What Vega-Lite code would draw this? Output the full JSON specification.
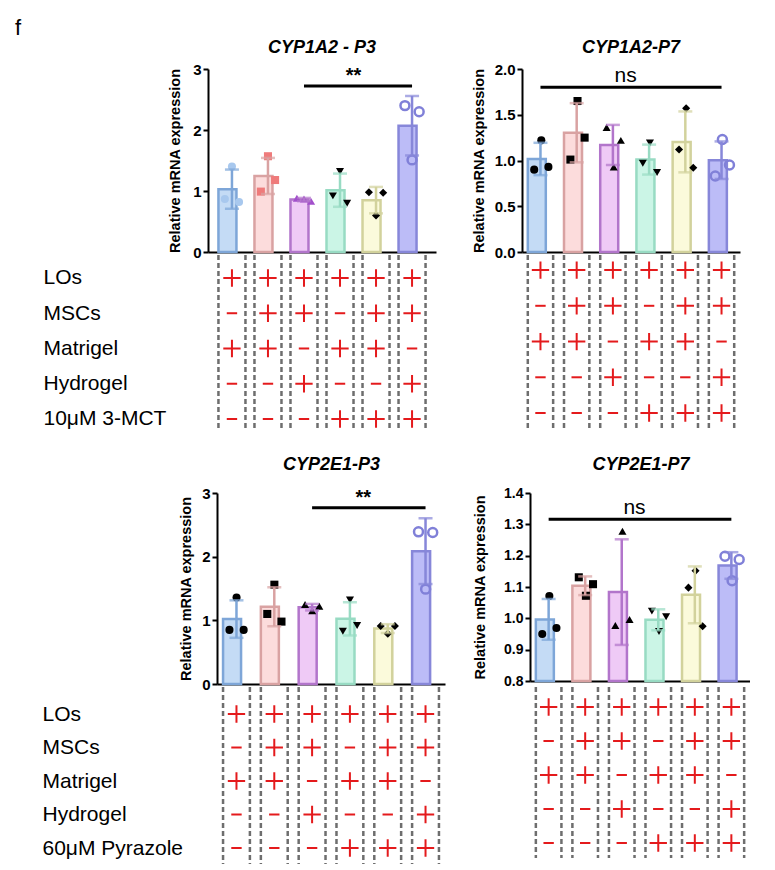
{
  "$schema": "https://vega.github.io/schema/vega-lite/v6.json",
  "background": "white",
  "padding": {"left": 15, "top": 17, "right": 0, "bottom": 0},
  "title": {"text": "f", "anchor": "start", "frame": "group", "offset": -1, "dx": -193, "fontSize": 22, "fontWeight": "normal", "fontStyle": "normal"},
  "config": {
    "font": "Liberation Sans",
    "view": {"stroke": null},
    "axis": {"grid": false, "domainColor": "black", "domainWidth": 2, "tickColor": "black", "tickWidth": 2, "tickSize": 5, "labelColor": "black", "labelFontSize": 15, "labelFontWeight": "bold", "labelPadding": 2, "labelOverlap": false, "titleColor": "black", "titleFontSize": 14.5, "titleFontWeight": "bold"},
    "title": {"fontSize": 18, "fontWeight": "bold", "fontStyle": "italic", "color": "black"}
  },
  "datasets": {
    "p1": [
      {"g": "1", "rep": 1, "v": 0.87}, {"g": "1", "rep": 2, "v": 1.40}, {"g": "1", "rep": 3, "v": 0.82},
      {"g": "2", "rep": 1, "v": 0.99}, {"g": "2", "rep": 2, "v": 1.57}, {"g": "2", "rep": 3, "v": 1.18},
      {"g": "3", "rep": 1, "v": 0.88}, {"g": "3", "rep": 2, "v": 0.87}, {"g": "3", "rep": 3, "v": 0.83},
      {"g": "4", "rep": 1, "v": 0.92}, {"g": "4", "rep": 2, "v": 1.32}, {"g": "4", "rep": 3, "v": 0.80},
      {"g": "5", "rep": 1, "v": 0.98}, {"g": "5", "rep": 2, "v": 0.60}, {"g": "5", "rep": 3, "v": 0.97},
      {"g": "6", "rep": 1, "v": 2.40}, {"g": "6", "rep": 2, "v": 1.51}, {"g": "6", "rep": 3, "v": 2.30}
    ],
    "p2": [
      {"g": "1", "rep": 1, "v": 0.90}, {"g": "1", "rep": 2, "v": 1.22}, {"g": "1", "rep": 3, "v": 0.93},
      {"g": "2", "rep": 1, "v": 1.01}, {"g": "2", "rep": 2, "v": 1.65}, {"g": "2", "rep": 3, "v": 1.25},
      {"g": "3", "rep": 1, "v": 1.36}, {"g": "3", "rep": 2, "v": 0.93}, {"g": "3", "rep": 3, "v": 1.22},
      {"g": "4", "rep": 1, "v": 0.97}, {"g": "4", "rep": 2, "v": 1.19}, {"g": "4", "rep": 3, "v": 0.87},
      {"g": "5", "rep": 1, "v": 1.12}, {"g": "5", "rep": 2, "v": 1.57}, {"g": "5", "rep": 3, "v": 0.92},
      {"g": "6", "rep": 1, "v": 0.83}, {"g": "6", "rep": 2, "v": 1.23}, {"g": "6", "rep": 3, "v": 0.95}
    ],
    "p3": [
      {"g": "1", "rep": 1, "v": 0.85}, {"g": "1", "rep": 2, "v": 1.36}, {"g": "1", "rep": 3, "v": 0.85},
      {"g": "2", "rep": 1, "v": 1.10}, {"g": "2", "rep": 2, "v": 1.56}, {"g": "2", "rep": 3, "v": 0.98},
      {"g": "3", "rep": 1, "v": 1.25}, {"g": "3", "rep": 2, "v": 1.15}, {"g": "3", "rep": 3, "v": 1.22},
      {"g": "4", "rep": 1, "v": 0.83}, {"g": "4", "rep": 2, "v": 1.32}, {"g": "4", "rep": 3, "v": 0.92},
      {"g": "5", "rep": 1, "v": 0.91}, {"g": "5", "rep": 2, "v": 0.79}, {"g": "5", "rep": 3, "v": 0.91},
      {"g": "6", "rep": 1, "v": 2.39}, {"g": "6", "rep": 2, "v": 1.49}, {"g": "6", "rep": 3, "v": 2.38}
    ],
    "p4": [
      {"g": "1", "rep": 1, "v": 0.950}, {"g": "1", "rep": 2, "v": 1.071}, {"g": "1", "rep": 3, "v": 0.969},
      {"g": "2", "rep": 1, "v": 1.131}, {"g": "2", "rep": 2, "v": 1.072}, {"g": "2", "rep": 3, "v": 1.109},
      {"g": "3", "rep": 1, "v": 0.977}, {"g": "3", "rep": 2, "v": 1.278}, {"g": "3", "rep": 3, "v": 0.996},
      {"g": "4", "rep": 1, "v": 1.023}, {"g": "4", "rep": 2, "v": 0.958}, {"g": "4", "rep": 3, "v": 1.005},
      {"g": "5", "rep": 1, "v": 1.098}, {"g": "5", "rep": 2, "v": 1.152}, {"g": "5", "rep": 3, "v": 0.975},
      {"g": "6", "rep": 1, "v": 1.198}, {"g": "6", "rep": 2, "v": 1.120}, {"g": "6", "rep": 3, "v": 1.188}
    ],
    "p1sig": [{"from": "3", "to": "6", "at": "4", "y": 2.72, "label": "**"}],
    "p2sig": [{"from": "1", "to": "6", "at": "3", "y": 1.80, "label": "ns"}],
    "p3sig": [{"from": "3", "to": "6", "at": "4", "y": 2.77, "label": "**"}],
    "p4sig": [{"from": "1", "to": "6", "at": "3", "y": 1.316, "label": "ns"}],
    "signsA": [
      {"r": "LOs", "g": "1", "s": "+"}, {"r": "LOs", "g": "2", "s": "+"}, {"r": "LOs", "g": "3", "s": "+"}, {"r": "LOs", "g": "4", "s": "+"}, {"r": "LOs", "g": "5", "s": "+"}, {"r": "LOs", "g": "6", "s": "+"},
      {"r": "MSCs", "g": "1", "s": "−"}, {"r": "MSCs", "g": "2", "s": "+"}, {"r": "MSCs", "g": "3", "s": "+"}, {"r": "MSCs", "g": "4", "s": "−"}, {"r": "MSCs", "g": "5", "s": "+"}, {"r": "MSCs", "g": "6", "s": "+"},
      {"r": "Matrigel", "g": "1", "s": "+"}, {"r": "Matrigel", "g": "2", "s": "+"}, {"r": "Matrigel", "g": "3", "s": "−"}, {"r": "Matrigel", "g": "4", "s": "+"}, {"r": "Matrigel", "g": "5", "s": "+"}, {"r": "Matrigel", "g": "6", "s": "−"},
      {"r": "Hydrogel", "g": "1", "s": "−"}, {"r": "Hydrogel", "g": "2", "s": "−"}, {"r": "Hydrogel", "g": "3", "s": "+"}, {"r": "Hydrogel", "g": "4", "s": "−"}, {"r": "Hydrogel", "g": "5", "s": "−"}, {"r": "Hydrogel", "g": "6", "s": "+"},
      {"r": "10μM 3-MCT", "g": "1", "s": "−"}, {"r": "10μM 3-MCT", "g": "2", "s": "−"}, {"r": "10μM 3-MCT", "g": "3", "s": "−"}, {"r": "10μM 3-MCT", "g": "4", "s": "+"}, {"r": "10μM 3-MCT", "g": "5", "s": "+"}, {"r": "10μM 3-MCT", "g": "6", "s": "+"}
    ],
    "signsB": [
      {"r": "LOs", "g": "1", "s": "+"}, {"r": "LOs", "g": "2", "s": "+"}, {"r": "LOs", "g": "3", "s": "+"}, {"r": "LOs", "g": "4", "s": "+"}, {"r": "LOs", "g": "5", "s": "+"}, {"r": "LOs", "g": "6", "s": "+"},
      {"r": "MSCs", "g": "1", "s": "−"}, {"r": "MSCs", "g": "2", "s": "+"}, {"r": "MSCs", "g": "3", "s": "+"}, {"r": "MSCs", "g": "4", "s": "−"}, {"r": "MSCs", "g": "5", "s": "+"}, {"r": "MSCs", "g": "6", "s": "+"},
      {"r": "Matrigel", "g": "1", "s": "+"}, {"r": "Matrigel", "g": "2", "s": "+"}, {"r": "Matrigel", "g": "3", "s": "−"}, {"r": "Matrigel", "g": "4", "s": "+"}, {"r": "Matrigel", "g": "5", "s": "+"}, {"r": "Matrigel", "g": "6", "s": "−"},
      {"r": "Hydrogel", "g": "1", "s": "−"}, {"r": "Hydrogel", "g": "2", "s": "−"}, {"r": "Hydrogel", "g": "3", "s": "+"}, {"r": "Hydrogel", "g": "4", "s": "−"}, {"r": "Hydrogel", "g": "5", "s": "−"}, {"r": "Hydrogel", "g": "6", "s": "+"},
      {"r": "60μM Pyrazole", "g": "1", "s": "−"}, {"r": "60μM Pyrazole", "g": "2", "s": "−"}, {"r": "60μM Pyrazole", "g": "3", "s": "−"}, {"r": "60μM Pyrazole", "g": "4", "s": "+"}, {"r": "60μM Pyrazole", "g": "5", "s": "+"}, {"r": "60μM Pyrazole", "g": "6", "s": "+"}
    ]
  },
  "columns": 2,
  "bounds": "flush",
  "align": "each",
  "spacing": {"row": 3, "column": 77},
  "resolve": {"scale": {"shape": "independent", "color": "independent", "fill": "independent", "stroke": "independent"}},
  "concat": [
    {
      "width": 228, "height": 183,
      "title": {"text": "CYP1A2 - P3", "frame": "group", "offset": 5},
      "layer": [
        {"data": {"name": "p1"}, "mark": {"type": "bar", "strokeWidth": 2.5},
         "encoding": {
           "x": {"field": "g", "type": "ordinal", "scale": {"paddingInner": 0.25, "paddingOuter": 0.29}, "axis": {"labels": false, "ticks": false, "title": null}},
           "y": {"aggregate": "mean", "field": "v", "type": "quantitative", "title": "Relative mRNA expression", "scale": {"domain": [0, 3]}, "axis": {"values": [0, 1, 2, 3], "format": "d", "titlePadding": 10}},
           "fill": {"field": "g", "type": "nominal", "scale": {"range": ["#c4dbf5", "#fcdcdc", "#efcaf6", "#cbf5e6", "#fbfadb", "#bcbcf7"]}, "legend": null},
           "stroke": {"field": "g", "type": "nominal", "scale": {"range": ["#7ea6d8", "#d9a2a2", "#b275cb", "#98dbc3", "#d2d29c", "#8787d9"]}, "legend": null}}},
        {"data": {"name": "p1"}, "transform": [{"filter": "datum.g != '6'"}],
         "mark": {"type": "point", "filled": true, "size": 65, "opacity": 1},
         "encoding": {
           "x": {"field": "g", "type": "ordinal", "axis": {"labels": false, "ticks": false, "title": null}},
           "xOffset": {"field": "rep", "type": "ordinal", "scale": {"type": "point", "padding": 0.9}},
           "y": {"field": "v", "type": "quantitative", "title": "Relative mRNA expression", "axis": {"values": [0, 1, 2, 3], "format": "d", "titlePadding": 10}},
           "shape": {"field": "g", "type": "nominal", "scale": {"domain": ["1", "2", "3", "4", "5"], "range": ["circle", "square", "triangle-up", "triangle-down", "diamond"]}, "legend": null},
           "color": {"condition": [{"test": "datum.g == '1'", "value": "#a8c8ee"}, {"test": "datum.g == '2'", "value": "#ef7b7b"}, {"test": "datum.g == '3'", "value": "#a24fcb"}], "value": "black"}}},
        {"data": {"name": "p1"}, "transform": [{"filter": "datum.g == '6'"}],
         "mark": {"type": "point", "filled": false, "size": 80, "strokeWidth": 2.5, "opacity": 1, "color": "#8080d8"},
         "encoding": {
           "x": {"field": "g", "type": "ordinal", "axis": {"labels": false, "ticks": false, "title": null}},
           "xOffset": {"field": "rep", "type": "ordinal", "scale": {"type": "point", "padding": 0.9}},
           "y": {"field": "v", "type": "quantitative", "title": "Relative mRNA expression", "axis": {"values": [0, 1, 2, 3], "format": "d", "titlePadding": 10}}}},
        {"data": {"name": "p1"}, "mark": {"type": "errorbar", "extent": "stdev", "ticks": true, "size": 14, "thickness": 2.5},
         "encoding": {
           "x": {"field": "g", "type": "ordinal", "axis": {"labels": false, "ticks": false, "title": null}},
           "y": {"field": "v", "type": "quantitative", "title": "Relative mRNA expression", "axis": {"values": [0, 1, 2, 3], "format": "d", "titlePadding": 10}},
           "color": {"field": "g", "type": "nominal", "scale": {"range": ["#7ea6d8", "#d9a2a2", "#b275cb", "#98dbc3", "#d2d29c", "#8787d9"]}, "legend": null}}},
        {"data": {"name": "p1sig"}, "mark": {"type": "rule", "strokeWidth": 3, "color": "black"},
         "encoding": {
           "x": {"field": "from", "type": "ordinal", "axis": {"labels": false, "ticks": false, "title": null}},
           "x2": {"field": "to"},
           "y": {"field": "y", "type": "quantitative", "title": "Relative mRNA expression", "axis": {"values": [0, 1, 2, 3], "format": "d", "titlePadding": 10}}}},
        {"data": {"name": "p1sig"}, "mark": {"type": "text", "fontSize": 20, "fontWeight": "bold", "baseline": "middle", "dy": -10, "color": "black"},
         "encoding": {
           "x": {"field": "at", "type": "ordinal", "bandPosition": 1, "axis": {"labels": false, "ticks": false, "title": null}},
           "y": {"field": "y", "type": "quantitative", "title": "Relative mRNA expression", "axis": {"values": [0, 1, 2, 3], "format": "d", "titlePadding": 10}},
           "text": {"field": "label"}}}
      ]
    },
    {
      "width": 218, "height": 183,
      "title": {"text": "CYP1A2-P7", "frame": "group", "offset": 5},
      "layer": [
        {"data": {"name": "p2"}, "mark": {"type": "bar", "strokeWidth": 2.5},
         "encoding": {
           "x": {"field": "g", "type": "ordinal", "scale": {"paddingInner": 0.3, "paddingOuter": 0.16}, "axis": {"labels": false, "ticks": false, "title": null}},
           "y": {"aggregate": "mean", "field": "v", "type": "quantitative", "title": "Relative mRNA expression", "scale": {"domain": [0, 2]}, "axis": {"values": [0, 0.5, 1, 1.5, 2], "format": ".1f", "titlePadding": 8}},
           "fill": {"field": "g", "type": "nominal", "scale": {"range": ["#c4dbf5", "#fcdcdc", "#efcaf6", "#cbf5e6", "#fbfadb", "#bcbcf7"]}, "legend": null},
           "stroke": {"field": "g", "type": "nominal", "scale": {"range": ["#7ea6d8", "#d9a2a2", "#b275cb", "#98dbc3", "#d2d29c", "#8787d9"]}, "legend": null}}},
        {"data": {"name": "p2"}, "transform": [{"filter": "datum.g != '6'"}],
         "mark": {"type": "point", "filled": true, "size": 65, "opacity": 1, "color": "black"},
         "encoding": {
           "x": {"field": "g", "type": "ordinal", "axis": {"labels": false, "ticks": false, "title": null}},
           "xOffset": {"field": "rep", "type": "ordinal", "scale": {"type": "point", "padding": 0.9}},
           "y": {"field": "v", "type": "quantitative", "title": "Relative mRNA expression", "axis": {"values": [0, 0.5, 1, 1.5, 2], "format": ".1f", "titlePadding": 8}},
           "shape": {"field": "g", "type": "nominal", "scale": {"domain": ["1", "2", "3", "4", "5"], "range": ["circle", "square", "triangle-up", "triangle-down", "diamond"]}, "legend": null}}},
        {"data": {"name": "p2"}, "transform": [{"filter": "datum.g == '6'"}],
         "mark": {"type": "point", "filled": false, "size": 80, "strokeWidth": 2.5, "opacity": 1, "color": "#8080d8"},
         "encoding": {
           "x": {"field": "g", "type": "ordinal", "axis": {"labels": false, "ticks": false, "title": null}},
           "xOffset": {"field": "rep", "type": "ordinal", "scale": {"type": "point", "padding": 0.9}},
           "y": {"field": "v", "type": "quantitative", "title": "Relative mRNA expression", "axis": {"values": [0, 0.5, 1, 1.5, 2], "format": ".1f", "titlePadding": 8}}}},
        {"data": {"name": "p2"}, "mark": {"type": "errorbar", "extent": "stdev", "ticks": true, "size": 14, "thickness": 2.5},
         "encoding": {
           "x": {"field": "g", "type": "ordinal", "axis": {"labels": false, "ticks": false, "title": null}},
           "y": {"field": "v", "type": "quantitative", "title": "Relative mRNA expression", "axis": {"values": [0, 0.5, 1, 1.5, 2], "format": ".1f", "titlePadding": 8}},
           "color": {"field": "g", "type": "nominal", "scale": {"range": ["#7ea6d8", "#d9a2a2", "#b275cb", "#98dbc3", "#d2d29c", "#8787d9"]}, "legend": null}}},
        {"data": {"name": "p2sig"}, "mark": {"type": "rule", "strokeWidth": 3, "color": "black"},
         "encoding": {
           "x": {"field": "from", "type": "ordinal", "axis": {"labels": false, "ticks": false, "title": null}},
           "x2": {"field": "to"},
           "y": {"field": "y", "type": "quantitative", "title": "Relative mRNA expression", "axis": {"values": [0, 0.5, 1, 1.5, 2], "format": ".1f", "titlePadding": 8}}}},
        {"data": {"name": "p2sig"}, "mark": {"type": "text", "fontSize": 21, "baseline": "middle", "dy": -11, "color": "black"},
         "encoding": {
           "x": {"field": "at", "type": "ordinal", "bandPosition": 1, "axis": {"labels": false, "ticks": false, "title": null}},
           "y": {"field": "y", "type": "quantitative", "title": "Relative mRNA expression", "axis": {"values": [0, 0.5, 1, 1.5, 2], "format": ".1f", "titlePadding": 8}},
           "text": {"field": "label"}}}
      ]
    },
    {
      "width": 228, "height": 175,
      "data": {"name": "signsA"},
      "layer": [
        {"transform": [{"filter": "datum.r == 'LOs'"}], "mark": {"type": "rule", "strokeDash": [5, 3], "strokeWidth": 2.5, "color": "#6e6e6e"},
         "encoding": {"x": {"field": "g", "type": "ordinal", "bandPosition": 0, "scale": {"paddingInner": 0.25, "paddingOuter": 0.29}, "axis": null}}},
        {"transform": [{"filter": "datum.r == 'LOs'"}], "mark": {"type": "rule", "strokeDash": [5, 3], "strokeWidth": 2.5, "color": "#6e6e6e"},
         "encoding": {"x": {"field": "g", "type": "ordinal", "bandPosition": 1, "axis": null}}},
        {"mark": {"type": "point", "filled": false, "color": "#e41a1c", "strokeWidth": 2, "size": 300, "opacity": 1},
         "encoding": {
           "x": {"field": "g", "type": "ordinal", "axis": null},
           "y": {"field": "r", "type": "ordinal", "sort": ["LOs", "MSCs", "Matrigel", "Hydrogel", "10μM 3-MCT"], "scale": {"type": "point", "padding": 0.482, "align": 0.676},
                 "axis": {"title": null, "domain": false, "ticks": false, "tickSize": 0, "labelPadding": 165, "labelAlign": "left", "labelFontSize": 21, "labelFontWeight": "normal", "labelBaseline": "middle", "labelLimit": 300, "labelOverlap": false}},
           "shape": {"field": "s", "type": "nominal", "scale": {"domain": ["+", "−"], "range": ["M-1,0H1M0,-1V1", "M-0.6,0H0.6"]}, "legend": null}}}
      ]
    },
    {
      "width": 218, "height": 175,
      "data": {"name": "signsA"},
      "layer": [
        {"transform": [{"filter": "datum.r == 'LOs'"}], "mark": {"type": "rule", "strokeDash": [5, 3], "strokeWidth": 2.5, "color": "#6e6e6e"},
         "encoding": {"x": {"field": "g", "type": "ordinal", "bandPosition": 0, "scale": {"paddingInner": 0.3, "paddingOuter": 0.16}, "axis": null}}},
        {"transform": [{"filter": "datum.r == 'LOs'"}], "mark": {"type": "rule", "strokeDash": [5, 3], "strokeWidth": 2.5, "color": "#6e6e6e"},
         "encoding": {"x": {"field": "g", "type": "ordinal", "bandPosition": 1, "axis": null}}},
        {"mark": {"type": "point", "filled": false, "color": "#e41a1c", "strokeWidth": 2, "size": 300, "opacity": 1},
         "encoding": {
           "x": {"field": "g", "type": "ordinal", "axis": null},
           "y": {"field": "r", "type": "ordinal", "sort": ["LOs", "MSCs", "Matrigel", "Hydrogel", "10μM 3-MCT"], "scale": {"type": "point", "padding": 0.448, "align": 0.47}, "axis": null},
           "shape": {"field": "s", "type": "nominal", "scale": {"domain": ["+", "−"], "range": ["M-1,0H1M0,-1V1", "M-0.6,0H0.6"]}, "legend": null}}}
      ]
    },
    {"width": 1, "height": 57, "data": {"values": [{"k": 0}]}, "mark": {"type": "point", "opacity": 0}, "encoding": {}},
    {"width": 1, "height": 57, "data": {"values": [{"k": 0}]}, "mark": {"type": "point", "opacity": 0}, "encoding": {}},
    {
      "width": 237, "height": 191,
      "title": {"text": "CYP2E1-P3", "frame": "group", "offset": 12, "dx": 5},
      "layer": [
        {"data": {"name": "p3"}, "mark": {"type": "bar", "strokeWidth": 2.5},
         "encoding": {
           "x": {"field": "g", "type": "ordinal", "scale": {"range": [9, 237], "paddingInner": 0.29, "paddingOuter": 0.16}, "axis": {"labels": false, "ticks": false, "title": null}},
           "y": {"aggregate": "mean", "field": "v", "type": "quantitative", "title": "Relative mRNA expression", "scale": {"domain": [0, 3]}, "axis": {"values": [0, 1, 2, 3], "format": "d", "titlePadding": 8, "offset": -9}},
           "fill": {"field": "g", "type": "nominal", "scale": {"range": ["#c4dbf5", "#fcdcdc", "#efcaf6", "#cbf5e6", "#fbfadb", "#bcbcf7"]}, "legend": null},
           "stroke": {"field": "g", "type": "nominal", "scale": {"range": ["#7ea6d8", "#d9a2a2", "#b275cb", "#98dbc3", "#d2d29c", "#8787d9"]}, "legend": null}}},
        {"data": {"name": "p3"}, "transform": [{"filter": "datum.g != '6'"}],
         "mark": {"type": "point", "filled": true, "size": 65, "opacity": 1, "color": "black"},
         "encoding": {
           "x": {"field": "g", "type": "ordinal", "axis": {"labels": false, "ticks": false, "title": null}},
           "xOffset": {"field": "rep", "type": "ordinal", "scale": {"type": "point", "padding": 0.9}},
           "y": {"field": "v", "type": "quantitative", "title": "Relative mRNA expression", "axis": {"values": [0, 1, 2, 3], "format": "d", "titlePadding": 8, "offset": -9}},
           "shape": {"field": "g", "type": "nominal", "scale": {"domain": ["1", "2", "3", "4", "5"], "range": ["circle", "square", "triangle-up", "triangle-down", "diamond"]}, "legend": null}}},
        {"data": {"name": "p3"}, "transform": [{"filter": "datum.g == '6'"}],
         "mark": {"type": "point", "filled": false, "size": 80, "strokeWidth": 2.5, "opacity": 1, "color": "#8080d8"},
         "encoding": {
           "x": {"field": "g", "type": "ordinal", "axis": {"labels": false, "ticks": false, "title": null}},
           "xOffset": {"field": "rep", "type": "ordinal", "scale": {"type": "point", "padding": 0.9}},
           "y": {"field": "v", "type": "quantitative", "title": "Relative mRNA expression", "axis": {"values": [0, 1, 2, 3], "format": "d", "titlePadding": 8, "offset": -9}}}},
        {"data": {"name": "p3"}, "mark": {"type": "errorbar", "extent": "stdev", "ticks": true, "size": 14, "thickness": 2.5},
         "encoding": {
           "x": {"field": "g", "type": "ordinal", "axis": {"labels": false, "ticks": false, "title": null}},
           "y": {"field": "v", "type": "quantitative", "title": "Relative mRNA expression", "axis": {"values": [0, 1, 2, 3], "format": "d", "titlePadding": 8, "offset": -9}},
           "color": {"field": "g", "type": "nominal", "scale": {"range": ["#7ea6d8", "#d9a2a2", "#b275cb", "#98dbc3", "#d2d29c", "#8787d9"]}, "legend": null}}},
        {"data": {"name": "p3sig"}, "mark": {"type": "rule", "strokeWidth": 3, "color": "black"},
         "encoding": {
           "x": {"field": "from", "type": "ordinal", "axis": {"labels": false, "ticks": false, "title": null}},
           "x2": {"field": "to"},
           "y": {"field": "y", "type": "quantitative", "title": "Relative mRNA expression", "axis": {"values": [0, 1, 2, 3], "format": "d", "titlePadding": 8, "offset": -9}}}},
        {"data": {"name": "p3sig"}, "mark": {"type": "text", "fontSize": 20, "fontWeight": "bold", "baseline": "middle", "dy": -10, "color": "black"},
         "encoding": {
           "x": {"field": "at", "type": "ordinal", "bandPosition": 1, "axis": {"labels": false, "ticks": false, "title": null}},
           "y": {"field": "y", "type": "quantitative", "title": "Relative mRNA expression", "axis": {"values": [0, 1, 2, 3], "format": "d", "titlePadding": 8, "offset": -9}},
           "text": {"field": "label"}}}
      ]
    },
    {
      "width": 228, "height": 188,
      "title": {"text": "CYP2E1-P7", "frame": "group", "offset": 12, "dx": 5},
      "layer": [
        {"data": {"name": "p4"}, "mark": {"type": "bar", "strokeWidth": 2.5},
         "encoding": {
           "x": {"field": "g", "type": "ordinal", "scale": {"range": [8, 228], "paddingInner": 0.3, "paddingOuter": 0.16}, "axis": {"labels": false, "ticks": false, "title": null}},
           "y": {"aggregate": "mean", "field": "v", "type": "quantitative", "title": "Relative mRNA expression", "scale": {"domain": [0.8, 1.4], "zero": false}, "axis": {"values": [0.8, 0.9, 1.0, 1.1, 1.2, 1.3, 1.4], "format": ".1f", "labelFontSize": 14, "titlePadding": 16, "offset": -8}},
           "y2": {"datum": 0.8},
           "fill": {"field": "g", "type": "nominal", "scale": {"range": ["#c4dbf5", "#fcdcdc", "#efcaf6", "#cbf5e6", "#fbfadb", "#bcbcf7"]}, "legend": null},
           "stroke": {"field": "g", "type": "nominal", "scale": {"range": ["#7ea6d8", "#d9a2a2", "#b275cb", "#98dbc3", "#d2d29c", "#8787d9"]}, "legend": null}}},
        {"data": {"name": "p4"}, "transform": [{"filter": "datum.g != '6'"}],
         "mark": {"type": "point", "filled": true, "size": 65, "opacity": 1, "color": "black"},
         "encoding": {
           "x": {"field": "g", "type": "ordinal", "axis": {"labels": false, "ticks": false, "title": null}},
           "xOffset": {"field": "rep", "type": "ordinal", "scale": {"type": "point", "padding": 0.9}},
           "y": {"field": "v", "type": "quantitative", "title": "Relative mRNA expression", "axis": {"values": [0.8, 0.9, 1.0, 1.1, 1.2, 1.3, 1.4], "format": ".1f", "labelFontSize": 14, "titlePadding": 16, "offset": -8}},
           "shape": {"field": "g", "type": "nominal", "scale": {"domain": ["1", "2", "3", "4", "5"], "range": ["circle", "square", "triangle-up", "triangle-down", "diamond"]}, "legend": null}}},
        {"data": {"name": "p4"}, "transform": [{"filter": "datum.g == '6'"}],
         "mark": {"type": "point", "filled": false, "size": 80, "strokeWidth": 2.5, "opacity": 1, "color": "#8080d8"},
         "encoding": {
           "x": {"field": "g", "type": "ordinal", "axis": {"labels": false, "ticks": false, "title": null}},
           "xOffset": {"field": "rep", "type": "ordinal", "scale": {"type": "point", "padding": 0.9}},
           "y": {"field": "v", "type": "quantitative", "title": "Relative mRNA expression", "axis": {"values": [0.8, 0.9, 1.0, 1.1, 1.2, 1.3, 1.4], "format": ".1f", "labelFontSize": 14, "titlePadding": 16, "offset": -8}}}},
        {"data": {"name": "p4"}, "mark": {"type": "errorbar", "extent": "stdev", "ticks": true, "size": 14, "thickness": 2.5},
         "encoding": {
           "x": {"field": "g", "type": "ordinal", "axis": {"labels": false, "ticks": false, "title": null}},
           "y": {"field": "v", "type": "quantitative", "title": "Relative mRNA expression", "axis": {"values": [0.8, 0.9, 1.0, 1.1, 1.2, 1.3, 1.4], "format": ".1f", "labelFontSize": 14, "titlePadding": 16, "offset": -8}},
           "color": {"field": "g", "type": "nominal", "scale": {"range": ["#7ea6d8", "#d9a2a2", "#b275cb", "#98dbc3", "#d2d29c", "#8787d9"]}, "legend": null}}},
        {"data": {"name": "p4sig"}, "mark": {"type": "rule", "strokeWidth": 3, "color": "black"},
         "encoding": {
           "x": {"field": "from", "type": "ordinal", "axis": {"labels": false, "ticks": false, "title": null}},
           "x2": {"field": "to"},
           "y": {"field": "y", "type": "quantitative", "title": "Relative mRNA expression", "axis": {"values": [0.8, 0.9, 1.0, 1.1, 1.2, 1.3, 1.4], "format": ".1f", "labelFontSize": 14, "titlePadding": 16, "offset": -8}}}},
        {"data": {"name": "p4sig"}, "mark": {"type": "text", "fontSize": 21, "baseline": "middle", "dy": -11, "color": "black"},
         "encoding": {
           "x": {"field": "at", "type": "ordinal", "bandPosition": 1, "axis": {"labels": false, "ticks": false, "title": null}},
           "y": {"field": "y", "type": "quantitative", "title": "Relative mRNA expression", "axis": {"values": [0.8, 0.9, 1.0, 1.1, 1.2, 1.3, 1.4], "format": ".1f", "labelFontSize": 14, "titlePadding": 16, "offset": -8}},
           "text": {"field": "label"}}}
      ]
    },
    {
      "width": 237, "height": 177,
      "data": {"name": "signsB"},
      "layer": [
        {"transform": [{"filter": "datum.r == 'LOs'"}], "mark": {"type": "rule", "strokeDash": [5, 3], "strokeWidth": 2.5, "color": "#6e6e6e"},
         "encoding": {"x": {"field": "g", "type": "ordinal", "bandPosition": 0, "scale": {"range": [9, 237], "paddingInner": 0.29, "paddingOuter": 0.16}, "axis": null}}},
        {"transform": [{"filter": "datum.r == 'LOs'"}], "mark": {"type": "rule", "strokeDash": [5, 3], "strokeWidth": 2.5, "color": "#6e6e6e"},
         "encoding": {"x": {"field": "g", "type": "ordinal", "bandPosition": 1, "axis": null}}},
        {"mark": {"type": "point", "filled": false, "color": "#e41a1c", "strokeWidth": 2, "size": 300, "opacity": 1},
         "encoding": {
           "x": {"field": "g", "type": "ordinal", "axis": null},
           "y": {"field": "r", "type": "ordinal", "sort": ["LOs", "MSCs", "Matrigel", "Hydrogel", "60μM Pyrazole"], "scale": {"type": "point", "padding": 0.642, "align": 0.628},
                 "axis": {"title": null, "domain": false, "ticks": false, "tickSize": 0, "labelPadding": 166, "labelAlign": "left", "labelFontSize": 21, "labelFontWeight": "normal", "labelBaseline": "middle", "labelLimit": 300, "labelOverlap": false}},
           "shape": {"field": "s", "type": "nominal", "scale": {"domain": ["+", "−"], "range": ["M-1,0H1M0,-1V1", "M-0.6,0H0.6"]}, "legend": null}}}
      ]
    },
    {
      "width": 228, "height": 171,
      "data": {"name": "signsB"},
      "layer": [
        {"transform": [{"filter": "datum.r == 'LOs'"}], "mark": {"type": "rule", "strokeDash": [5, 3], "strokeWidth": 2.5, "color": "#6e6e6e"},
         "encoding": {"x": {"field": "g", "type": "ordinal", "bandPosition": 0, "scale": {"range": [8, 228], "paddingInner": 0.3, "paddingOuter": 0.16}, "axis": null}}},
        {"transform": [{"filter": "datum.r == 'LOs'"}], "mark": {"type": "rule", "strokeDash": [5, 3], "strokeWidth": 2.5, "color": "#6e6e6e"},
         "encoding": {"x": {"field": "g", "type": "ordinal", "bandPosition": 1, "axis": null}}},
        {"mark": {"type": "point", "filled": false, "color": "#e41a1c", "strokeWidth": 2, "size": 300, "opacity": 1},
         "encoding": {
           "x": {"field": "g", "type": "ordinal", "axis": null},
           "y": {"field": "r", "type": "ordinal", "sort": ["LOs", "MSCs", "Matrigel", "Hydrogel", "60μM Pyrazole"], "scale": {"type": "point", "padding": 0.515, "align": 0.571}, "axis": null},
           "shape": {"field": "s", "type": "nominal", "scale": {"domain": ["+", "−"], "range": ["M-1,0H1M0,-1V1", "M-0.6,0H0.6"]}, "legend": null}}}
      ]
    }
  ]
}
